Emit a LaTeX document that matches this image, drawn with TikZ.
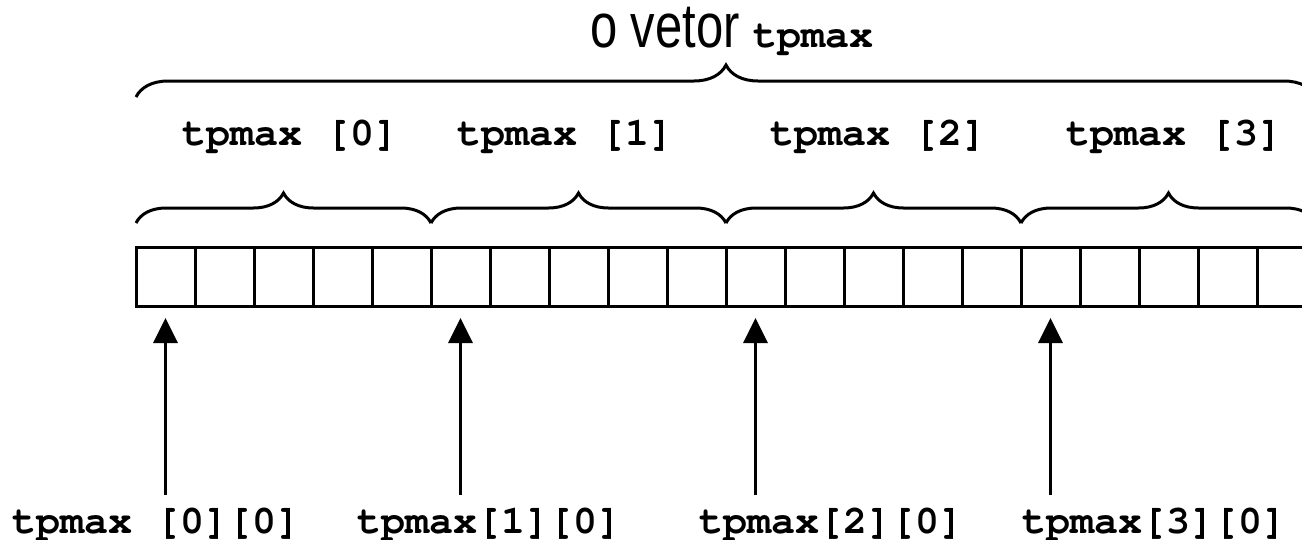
\documentclass[tikz,border=0pt]{standalone}
\usepackage{fontspec}
\setmainfont{Liberation Sans}
\newfontfamily\cour{texgyrecursor}[Extension=.otf, UprightFont=*-regular, BoldFont=*-bold]
\usetikzlibrary{decorations.pathreplacing,arrows.meta}
\tikzset{
  cell/.style={draw, line width=3pt, minimum width=59pt, minimum height=59pt, inner sep=0pt, outer sep=0pt},
  lbl/.style={anchor=base west, inner sep=0pt, font=\fontsize{40}{40}\selectfont\cour\bfseries},
  brc/.style={draw, line width=3pt, decorate, decoration={brace, amplitude=#1}},
  uparrow/.style={line width=3pt, -{Triangle[length=25pt,width=24pt]}, shorten >=11.5pt}
}
\begin{document}
\begin{tikzpicture}[x=1pt,y=-1pt]
\useasboundingbox (0,0) rectangle (1302,539);
\clip (0,0) rectangle (1302,539);
% cells
\foreach \i in {0,...,19} {
  \node[cell] (c\i) at ({136+29.5+59*\i},277) {};
}
% small braces
\foreach \k in {0,1,2,3} {
  \draw[brc=30pt] ({136+295*\k},223) -- ({136+295*(\k+1)},223);
}
% big brace
\draw[brc=32pt] (136,97) -- (1316,97);
% title
\node[anchor=base west, inner sep=0pt, font=\fontsize{48}{48}\selectfont] (title) at (590,47)
  {\scalebox{1.02}[1.3]{o vetor} {\fontsize{40}{40}\selectfont\cour\bfseries tpmax}};
% top labels
\node[lbl] (l0) at (182,145) {tpmax [0]};
\node[lbl] (l1) at (457,145) {tpmax [1]};
\node[lbl] (l2) at (770,145) {tpmax [2]};
\node[lbl] (l3) at (1066,145) {tpmax [3]};
% bottom labels
\node[lbl] (b0) at (12,533) {tpmax [0][0]};
\node[lbl] (b1) at (357,533) {tpmax[1][0]};
\node[lbl] (b2) at (699,533) {tpmax[2][0]};
\node[lbl] (b3) at (1022,533) {tpmax[3][0]};
% arrows
\coordinate (a0) at (c0.center |- 0,495);
\coordinate (a1) at (c5.center |- 0,495);
\coordinate (a2) at (c10.center |- 0,495);
\coordinate (a3) at (c15.center |- 0,495);
\draw[uparrow] (a0) -- (c0.south);
\draw[uparrow] (a1) -- (c5.south);
\draw[uparrow] (a2) -- (c10.south);
\draw[uparrow] (a3) -- (c15.south);
\end{tikzpicture}
\end{document}
